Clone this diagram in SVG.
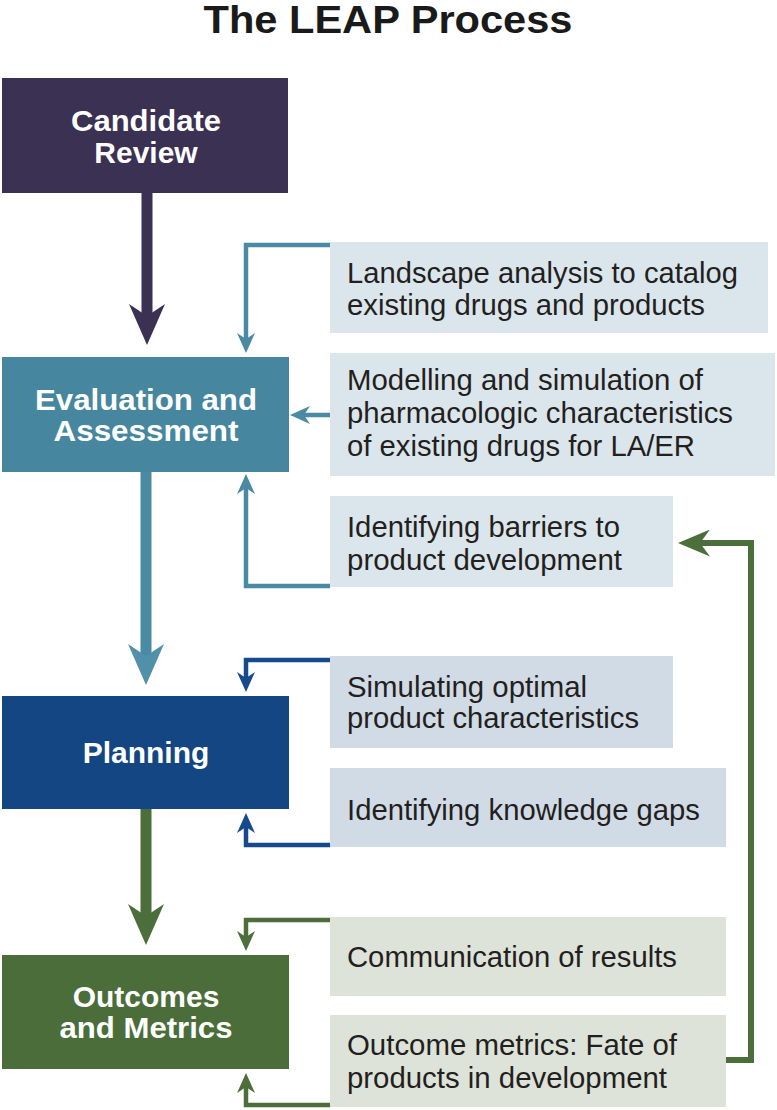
<svg xmlns="http://www.w3.org/2000/svg" width="777" height="1110" viewBox="0 0 777 1110">
  <style>
    .title { font-family: "Liberation Sans", Arial, sans-serif; font-weight: bold; font-size: 39px; fill: #1a1a1a; }
    .main { font-family: "Liberation Sans", Arial, sans-serif; font-weight: bold; font-size: 30px; fill: #ffffff; text-anchor: middle; }
    .sub { font-family: "Liberation Sans", Arial, sans-serif; font-size: 29px; fill: #231f20; }
    .c-teal { fill: none; stroke: #4a8aa3; stroke-width: 4.5; }
    .c-blue { fill: none; stroke: #174a8c; stroke-width: 4.5; }
    .c-green { fill: none; stroke: #4b6e3b; stroke-width: 4.5; }
    .c-green-long { fill: none; stroke: #4b6e3b; stroke-width: 6; }
    .big { fill: none; stroke-width: 11; }
    .bx-teal { fill: #dbe6ec; }
    .bx-blue { fill: #d1dbe6; }
    .bx-green { fill: #dde3d8; }
  </style>
  <defs>
    <marker id="sm-teal" viewBox="0 0 20 18" refX="6" refY="9" markerWidth="20" markerHeight="18" markerUnits="userSpaceOnUse" orient="auto">
      <path d="M0,0 L20,9 L0,18 L6,9 Z" fill="#4a8aa3"/>
    </marker>
    <marker id="sm-blue" viewBox="0 0 20 18" refX="6" refY="9" markerWidth="20" markerHeight="18" markerUnits="userSpaceOnUse" orient="auto">
      <path d="M0,0 L20,9 L0,18 L6,9 Z" fill="#174a8c"/>
    </marker>
    <marker id="sm-green" viewBox="0 0 20 18" refX="6" refY="9" markerWidth="20" markerHeight="18" markerUnits="userSpaceOnUse" orient="auto">
      <path d="M0,0 L20,9 L0,18 L6,9 Z" fill="#4b6e3b"/>
    </marker>
    <marker id="md-green" viewBox="0 0 32 27" refX="10" refY="13.5" markerWidth="32" markerHeight="27" markerUnits="userSpaceOnUse" orient="auto">
      <path d="M0,0 L32,13.5 L0,27 L10,13.5 Z" fill="#4b6e3b"/>
    </marker>
    <marker id="bg-purple" viewBox="0 0 41 36" refX="12" refY="18" markerWidth="41" markerHeight="36" markerUnits="userSpaceOnUse" orient="auto">
      <path d="M0,0 L41,18 L0,36 L12,18 Z" fill="#3b3152"/>
    </marker>
    <marker id="bg-teal" viewBox="0 0 41 36" refX="12" refY="18" markerWidth="41" markerHeight="36" markerUnits="userSpaceOnUse" orient="auto">
      <path d="M0,0 L41,18 L0,36 L12,18 Z" fill="#5190a9"/>
    </marker>
    <marker id="bg-green" viewBox="0 0 41 36" refX="12" refY="18" markerWidth="41" markerHeight="36" markerUnits="userSpaceOnUse" orient="auto">
      <path d="M0,0 L41,18 L0,36 L12,18 Z" fill="#4b6e3b"/>
    </marker>
  </defs>

  <text class="title" x="388" y="33" text-anchor="middle" textLength="369" lengthAdjust="spacingAndGlyphs">The LEAP Process</text>

  <g id="connectors">
    <path class="big" stroke="#3b3152" d="M147,193 V316" marker-end="url(#bg-purple)"/>
    <path class="big" stroke="#4a8aa3" d="M146,472 V656" marker-end="url(#bg-teal)"/>
    <path class="big" stroke="#4b6e3b" d="M146,809 V916" marker-end="url(#bg-green)"/>

    <path class="c-teal" d="M330,245 H246 V339" marker-end="url(#sm-teal)"/>
    <path class="c-teal" d="M330,415 H304" marker-end="url(#sm-teal)"/>
    <path class="c-teal" d="M330,586 H246 V488" marker-end="url(#sm-teal)"/>

    <path class="c-blue" d="M330,660 H246 V678" marker-end="url(#sm-blue)"/>
    <path class="c-blue" d="M330,845 H246 V827" marker-end="url(#sm-blue)"/>

    <path class="c-green" d="M330,920 H246 V937" marker-end="url(#sm-green)"/>
    <path class="c-green" d="M330,1105 H246 V1087" marker-end="url(#sm-green)"/>

    <path class="c-green-long" d="M725,1060 H751 V543 H700" marker-end="url(#md-green)"/>
  </g>

  <g id="candidate-review">
    <rect x="2" y="78" width="286" height="115" fill="#3b3152"/>
    <text class="main" x="146" y="131" textLength="150" lengthAdjust="spacingAndGlyphs">Candidate</text>
    <text class="main" x="146" y="163">Review</text>
  </g>

  <g id="evaluation-assessment">
    <rect x="2" y="357" width="287" height="115" fill="#46879f"/>
    <text class="main" x="146" y="410" textLength="222" lengthAdjust="spacingAndGlyphs">Evaluation and</text>
    <text class="main" x="146" y="441" textLength="185" lengthAdjust="spacingAndGlyphs">Assessment</text>
  </g>

  <g id="planning">
    <rect x="2" y="696" width="287" height="113" fill="#134682"/>
    <text class="main" x="146" y="763">Planning</text>
  </g>

  <g id="outcomes-metrics">
    <rect x="2" y="955" width="287" height="114" fill="#4a6d3a"/>
    <text class="main" x="146" y="1007">Outcomes</text>
    <text class="main" x="146" y="1038" textLength="173" lengthAdjust="spacingAndGlyphs">and Metrics</text>
  </g>

  <g id="landscape-analysis">
    <rect class="bx-teal" x="330" y="242" width="438" height="91"/>
    <text class="sub" x="347" y="283" textLength="391" lengthAdjust="spacingAndGlyphs">Landscape analysis to catalog</text>
    <text class="sub" x="347" y="315" textLength="358" lengthAdjust="spacingAndGlyphs">existing drugs and products</text>
  </g>

  <g id="modelling-simulation">
    <rect class="bx-teal" x="330" y="353" width="445" height="123"/>
    <text class="sub" x="347" y="390" textLength="356" lengthAdjust="spacingAndGlyphs">Modelling and simulation of</text>
    <text class="sub" x="347" y="423" textLength="386" lengthAdjust="spacingAndGlyphs">pharmacologic characteristics</text>
    <text class="sub" x="347" y="456" textLength="348" lengthAdjust="spacingAndGlyphs">of existing drugs for LA/ER</text>
  </g>

  <g id="identifying-barriers">
    <rect class="bx-teal" x="330" y="496" width="343" height="91"/>
    <text class="sub" x="347" y="537" textLength="273" lengthAdjust="spacingAndGlyphs">Identifying barriers to</text>
    <text class="sub" x="347" y="570" textLength="275" lengthAdjust="spacingAndGlyphs">product development</text>
  </g>

  <g id="simulating-optimal">
    <rect class="bx-blue" x="330" y="656" width="343" height="92"/>
    <text class="sub" x="347" y="697" textLength="240" lengthAdjust="spacingAndGlyphs">Simulating optimal</text>
    <text class="sub" x="347" y="728" textLength="292" lengthAdjust="spacingAndGlyphs">product characteristics</text>
  </g>

  <g id="knowledge-gaps">
    <rect class="bx-blue" x="330" y="768" width="396" height="79"/>
    <text class="sub" x="347" y="820" textLength="353" lengthAdjust="spacingAndGlyphs">Identifying knowledge gaps</text>
  </g>

  <g id="communication-results">
    <rect class="bx-green" x="330" y="917" width="396" height="79"/>
    <text class="sub" x="347" y="967" textLength="330" lengthAdjust="spacingAndGlyphs">Communication of results</text>
  </g>

  <g id="outcome-metrics">
    <rect class="bx-green" x="330" y="1015" width="396" height="92"/>
    <text class="sub" x="347" y="1055" textLength="330" lengthAdjust="spacingAndGlyphs">Outcome metrics: Fate of</text>
    <text class="sub" x="347" y="1088" textLength="320" lengthAdjust="spacingAndGlyphs">products in development</text>
  </g>
</svg>
